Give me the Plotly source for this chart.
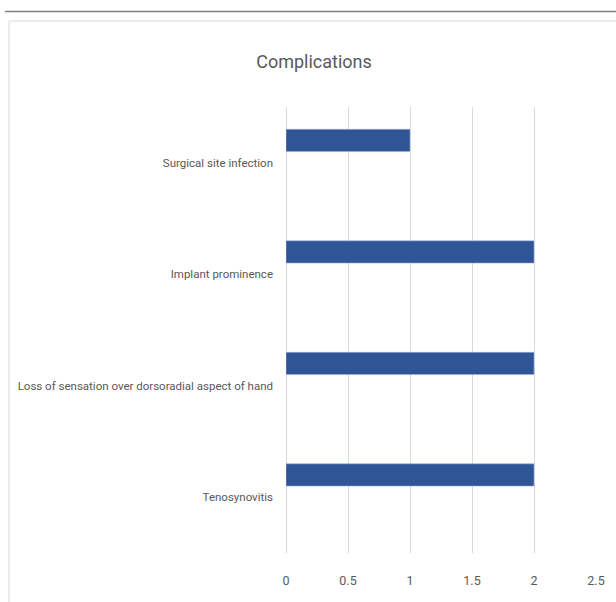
import plotly.graph_objects as go

# Complication categories (bottom to top) and their counts
categories = [
    "Tenosynovitis",
    "Loss of sensation over dorsoradial aspect of hand",
    "Implant prominence",
    "Surgical site infection",
]
counts = [2, 2, 2, 1]
x_ticks = [0, 0.5, 1, 1.5, 2, 2.5]
x_tick_text = ["0", "0.5", "1", "1.5", "2", "2.5"]

W, H = 616, 602
ML, MR, MT, MB = 286, 20, 107, 49
PW, PH = W - ML - MR, H - MT - MB


def px(x):
    return (x - ML) / PW


def py(y):
    return (H - MB - y) / PH


text_font = "Roboto, Liberation Sans, sans-serif"

fig = go.Figure(
    go.Bar(
        x=counts,
        y=categories,
        orientation="h",
        width=0.2,
        offset=0.1,
        marker=dict(color="#2f5597", line=dict(color="#9fb4d9", width=0.6)),
        hoverinfo="x+y",
    )
)

fig.update_layout(
    width=W,
    height=H,
    margin=dict(l=ML, r=MR, t=MT, b=MB, pad=0, autoexpand=False),
    paper_bgcolor="white",
    plot_bgcolor="white",
    showlegend=False,
    title=dict(
        text="Complications",
        xref="container",
        yref="container",
        x=314 / W,
        xanchor="center",
        y=1 - 62 / H,
        yanchor="middle",
        font=dict(family=text_font, size=18, color="#595959"),
    ),
    xaxis=dict(
        range=[0, 2.5],
        tickvals=x_ticks,
        ticktext=x_tick_text,
        showgrid=True,
        gridcolor="#d9d9d9",
        gridwidth=1,
        zeroline=True,
        zerolinecolor="#d9d9d9",
        zerolinewidth=1,
        showline=False,
        ticks="",
        ticklabelstandoff=18,
        automargin=False,
        tickfont=dict(family=text_font, size=12.5, color="#595959"),
        fixedrange=True,
    ),
    yaxis=dict(
        type="category",
        categoryorder="array",
        categoryarray=categories,
        range=[-0.5, 3.5],
        showgrid=False,
        zeroline=False,
        showline=False,
        ticks="",
        ticklabelstandoff=12,
        automargin=False,
        tickfont=dict(family=text_font, size=11.5, color="#595959"),
        fixedrange=True,
    ),
    shapes=[
        # dark rule across the top of the page
        dict(type="line", xref="paper", yref="paper",
             x0=px(5), x1=px(620), y0=py(11.5), y1=py(11.5),
             line=dict(color="#7f7f7f", width=1.5)),
        # light chart-area frame
        dict(type="rect", xref="paper", yref="paper",
             x0=px(9), x1=px(640), y0=py(21), y1=py(640),
             line=dict(color="#d9d9d9", width=1), layer="below"),
    ],
)

fig.write_html("out.html")
